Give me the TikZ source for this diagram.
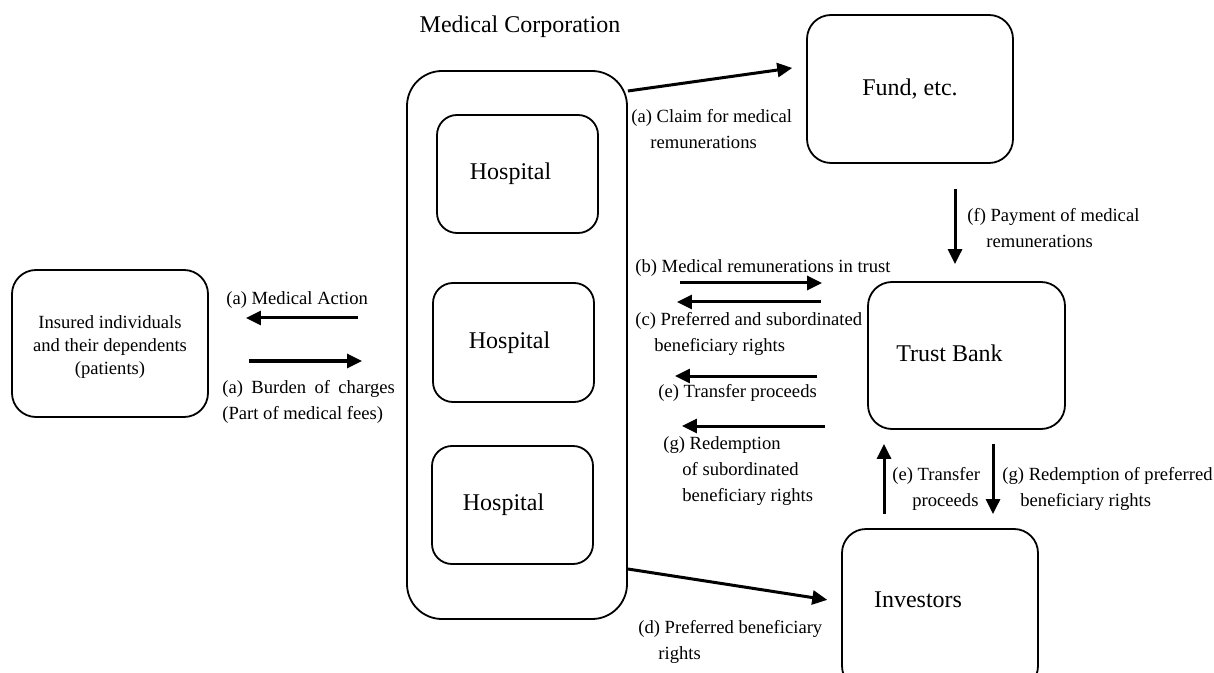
\documentclass[tikz,border=0pt]{standalone}
\usepackage{fontspec}
\setmainfont{Liberation Serif}
\usetikzlibrary{arrows.meta}
\usetikzlibrary{positioning}
\usetikzlibrary{calc}

\begin{document}
\begin{tikzpicture}[x=0.5pt,y=-0.5pt,
    box/.style={draw,line width=0.9pt,rounded corners=12pt,inner sep=0pt,font=\fontsize{12}{14}\selectfont},
    big/.style={font=\fontsize{12}{14}\selectfont},
    lbl/.style={font=\fontsize{9.3}{13}\selectfont,align=left,anchor=north west,inner sep=0pt},
    arr/.style={line width=1.5pt,-{Triangle[length=7.5pt,width=7pt]}}]
  \useasboundingbox (0,0) rectangle (1214,673);
  \node[box,minimum width=98pt,minimum height=73.5pt,label={[align=center,font=\fontsize{9.3}{11.5}\selectfont,yshift=-2pt]center:Insured individuals\\and their dependents\\(patients)}](pat) at (110,343.5) {};
  \node[big](corpname) at (520,27) {Medical Corporation};
  \node[box,minimum width=110pt,minimum height=274pt,rounded corners=17.5pt](corp) at (517,345) {};
  \node[box,minimum width=80.5pt,minimum height=59pt,rounded corners=10pt,label={[big,xshift=-3.5pt]center:Hospital}](hosp1) at (517.5,174) {};
  \node[box,minimum width=80.5pt,minimum height=59.5pt,rounded corners=10pt,label={[big,xshift=-2pt]center:Hospital}](hosp2) at (513.5,342.5) {};
  \node[box,minimum width=80.5pt,minimum height=59pt,rounded corners=10pt,label={[big,xshift=-4.5pt]center:Hospital}](hosp3) at (512.5,505) {};
  \node[box,minimum width=103pt,minimum height=74pt](fund) at (910,89) {Fund, etc.};
  \node[box,minimum width=98.5pt,minimum height=73.5pt,label={[big,xshift=-8.5pt,yshift=1.25pt]center:Trust Bank}](trust) at (966.5,355.5) {};
  \node[box,minimum width=98pt,minimum height=80.5pt,label={[big,xshift=-11pt,yshift=4.75pt]center:Investors}](inv) at (940,609.5) {};

  \draw[arr,shorten >=7pt] (corp.east |- 0,91) -- (fund.west |- 0,66);
  \draw[arr,shorten <=12.5pt,shorten >=8.5pt] (fund.south -| 955,0) -- (trust.north -| 955,0);
  \draw[arr,shorten <=26pt,shorten >=22.5pt] (corp.east |- 0,283) -- (trust.west |- 0,283);
  \draw[arr,shorten <=23pt,shorten >=24.5pt] (trust.west |- 0,302) -- (corp.east |- 0,302);
  \draw[arr,shorten <=25pt,shorten >=23.5pt] (trust.west |- 0,376) -- (corp.east |- 0,376);
  \draw[arr,shorten <=21pt,shorten >=27pt] (trust.west |- 0,426) -- (corp.east |- 0,426);
  \draw[arr,shorten >=7pt] (corp.east |- 0,569) -- (inv.west |- 0,602);
  \draw[arr,shorten <=7pt,shorten >=7pt] (inv.north -| 884,0) -- (trust.south -| 884,0);
  \draw[arr,shorten <=7pt,shorten >=7pt] (trust.south -| 993,0) -- (inv.north -| 993,0);
  \draw[arr,shorten <=24pt,shorten >=18.5pt] (corp.west |- 0,318) -- (pat.east |- 0,318);
  \draw[arr,shorten <=20pt,shorten >=22pt] (pat.east |- 0,361) -- (corp.west |- 0,361);

  \node[lbl](claim) at (631,109) {(a) Claim for medical\\\hspace*{9.5pt}remunerations};
  \node[lbl](pay) at (967,208) {(f) Payment of medical\\\hspace*{9.5pt}remunerations};
  \node[lbl](intrust) at (635,259) {(b) Medical remunerations in trust};
  \node[lbl](prefsub) at (635,312) {(c) Preferred and subordinated\\\hspace*{9.5pt}beneficiary rights};
  \node[lbl](procl) at (658,384) {(e) Transfer proceeds};
  \node[lbl](redsub) at (663,436) {(g) Redemption\\\hspace*{9.5pt}of subordinated\\\hspace*{9.5pt}beneficiary rights};
  \node[lbl](pref) at (638,620) {(d) Preferred beneficiary\\\hspace*{10pt}rights};
  \node[lbl](procr) at (892,467) {(e) Transfer\\\hspace*{10pt}proceeds};
  \node[lbl](redpref) at (1002,467) {(g) Redemption of preferred\\\hspace*{9pt}beneficiary rights};
  \node[lbl](action) at (226,291) {(a) Medical Action};
  \node[lbl](burden) at (222,380) {(a)\hspace{4.2pt}Burden\hspace{4.2pt}of\hspace{4.2pt}charges\\(Part of medical fees)};
\end{tikzpicture}
\end{document}
